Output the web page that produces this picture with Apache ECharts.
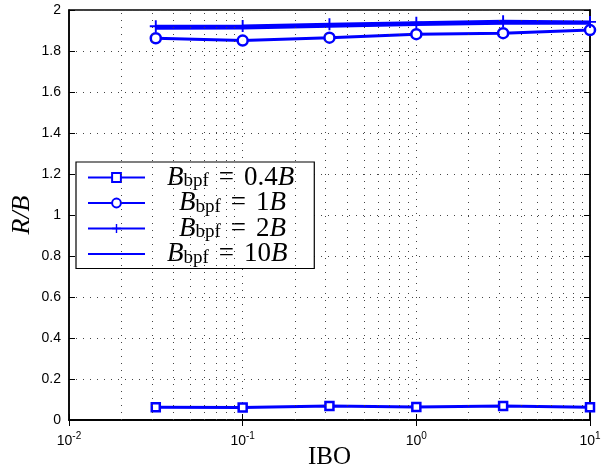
<!DOCTYPE html>
<html>
<head>
<meta charset="utf-8">
<script src="https://cdn.jsdelivr.net/npm/echarts@6/dist/echarts.min.js"></script>
<style>html,body{margin:0;padding:0;background:#fff}#c{width:616px;height:472px}</style>
</head>
<body>
<div id="c"></div>
<script>
const ibo = [0.0316, 0.1, 0.316, 1, 3.16, 10];
const r04 = [0.062, 0.061, 0.068, 0.064, 0.068, 0.062];
const r1 = [1.862, 1.851, 1.865, 1.882, 1.887, 1.902];
const r2 = [1.921, 1.922, 1.931, 1.938, 1.945, 1.942];
const r10 = [1.912, 1.914, 1.922, 1.930, 1.936, 1.936];
const seriesNames = ['0.4', '1', '2', '10'];
const minorGrid = [0.02,0.03,0.04,0.05,0.06,0.07,0.08,0.09,0.2,0.3,0.4,0.5,0.6,0.7,0.8,0.9,2,3,4,5,6,7,8,9];

const blue = '#0000ff';
const plus = 'path://M4.2,0H5.8V4.2H10V5.8H5.8V10H4.2V5.8H0V4.2H4.2Z';
function pts(ys){ return ibo.map((x,i)=>[x, ys[i]]); }
const dotted = {type:[1,6], color:'#444', width:1};

const chart = echarts.init(document.getElementById('c'), null, {renderer:'canvas'});
const labelFont = {fontFamily:'Liberation Sans, Arial, sans-serif', fontSize:14, color:'#000'};
const serif = 'Liberation Serif, Times New Roman, serif';
chart.setOption({
  animation:false,
  backgroundColor:'#fff',
  grid:{left:69, right:26, top:10, bottom:52, show:true, borderColor:'#000', borderWidth:1.5,
        outerBoundsMode:'none', containLabel:false},
  xAxis:[{
    type:'log', logBase:10, min:0.01, max:10,
    name:'IBO', nameLocation:'middle', nameGap:25, nameMoveOverlap:false,
    nameTextStyle:{fontFamily:serif, fontSize:25, color:'#000'},
    axisLine:{lineStyle:{color:'#000', width:1.5}},
    axisTick:{inside:true, length:6, lineStyle:{color:'#000'}},
    splitLine:{show:true, lineStyle:dotted},
    axisLabel:{margin:11, formatter:function(v){const e=Math.round(Math.log10(v)); return '{b|10}{e|'+e+'}';},
      rich:{b:{...labelFont, fontSize:14}, e:{...labelFont, fontSize:10, padding:[0,0,10,0]}}}
  },{
    type:'log', logBase:10, min:0.01, max:10, position:'top',
    axisLine:{lineStyle:{color:'#000', width:1.5}},
    axisTick:{inside:true, length:6, lineStyle:{color:'#000'}},
    axisLabel:{show:false}, splitLine:{show:false}
  }],
  yAxis:[{
    type:'value', min:0, max:2, interval:0.2,
    name:'R/B', nameLocation:'middle', nameGap:34, nameMoveOverlap:false,
    nameTextStyle:{fontFamily:serif, fontStyle:'italic', fontSize:26, color:'#000'},
    axisLine:{show:true, lineStyle:{color:'#000', width:1.5}},
    axisTick:{show:true, inside:true, length:6, lineStyle:{color:'#000'}},
    splitLine:{show:true, lineStyle:dotted},
    axisLabel:{...labelFont, margin:8}
  },{
    type:'value', min:0, max:2, interval:0.2, position:'right',
    axisLine:{show:true, lineStyle:{color:'#000', width:1.5}},
    axisTick:{show:true, inside:true, length:6, lineStyle:{color:'#000'}},
    axisLabel:{show:false}, splitLine:{show:false}
  }],
  legend:{
    left:76, top:162, orient:'vertical',
    backgroundColor:'#fff', borderColor:'#000', borderWidth:1.2,
    padding:[2,20,1,11], itemGap:-1.5, itemWidth:57, itemHeight:11,
    data:[{name:'B0.4'},{name:'B1'},{name:'B2'},{name:'B10', itemStyle:{opacity:0}}],
    formatter:function(name){
      const v = name.slice(1);
      const pad = (v.length===1) ? '{p2| }' : '{p1| }';
      return pad+'{i|B}{s|bpf}{q|=}{r|'+v+'}{i|B}';
    },
    textStyle:{
      lineHeight:22, fontSize:18,
      rich:{
        p1:{fontSize:10, width:17, lineHeight:22},
        p2:{fontSize:10, width:29, lineHeight:22},
        i:{fontFamily:serif, fontStyle:'italic', fontSize:27, color:'#000', lineHeight:22},
        r:{fontFamily:serif, fontSize:27, color:'#000', lineHeight:22},
        q:{fontFamily:serif, fontSize:27, color:'#000', lineHeight:22, padding:[0,10,0,10]},
        s:{fontFamily:serif, fontSize:19, color:'#000', padding:[8,0,0,0], lineHeight:18}
      }
    }
  },
  series:[
    {name:'B0.4', type:'line', data:pts(r04), symbol:'rect', symbolSize:8,
     lineStyle:{color:blue, width:3}, itemStyle:{color:'#fff', borderColor:blue, borderWidth:2.5},
     markLine:{silent:true, symbol:'none', label:{show:false}, lineStyle:dotted,
       data:minorGrid.map(v=>({xAxis:v}))}},
    {name:'B1', type:'line', data:pts(r1), symbol:'circle', symbolSize:10,
     lineStyle:{color:blue, width:3}, itemStyle:{color:'#fff', borderColor:blue, borderWidth:2.5}},
    {name:'B10', type:'line', data:pts(r10), symbol:'none', showSymbol:false,
     lineStyle:{color:blue, width:3.5}, itemStyle:{color:blue}},
    {name:'B2', type:'line', data:pts(r2), symbol:plus, symbolSize:12,
     lineStyle:{color:blue, width:3}, itemStyle:{color:blue}}
  ]
});
</script>
</body>
</html>
